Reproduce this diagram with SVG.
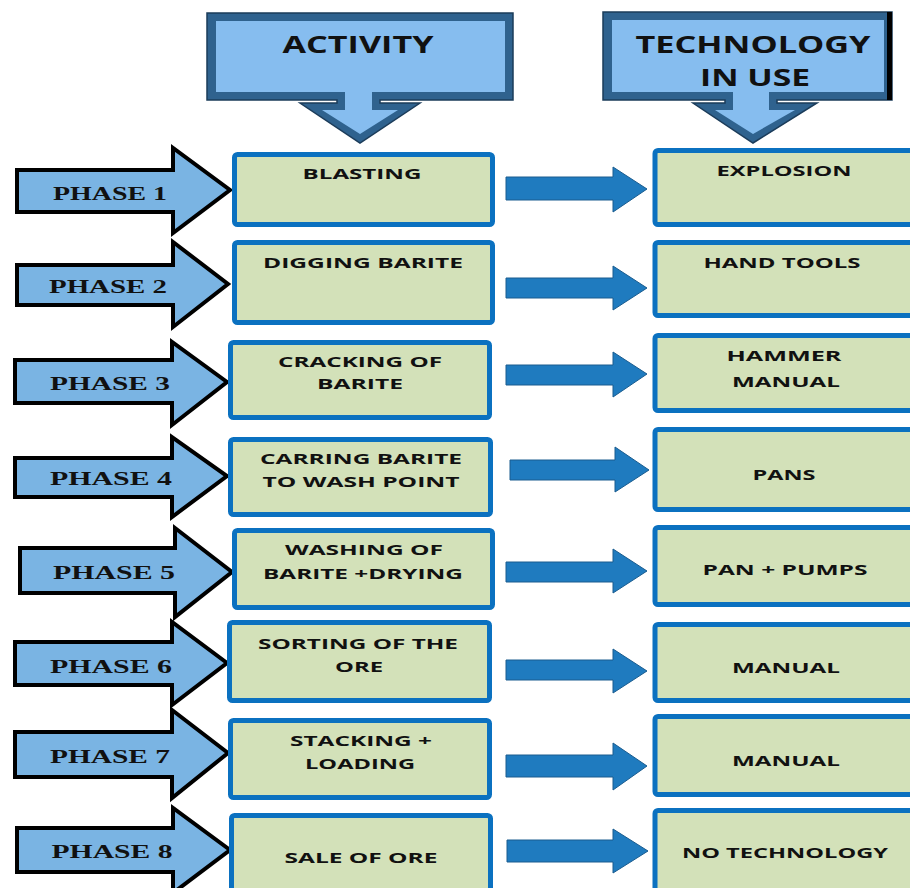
<svg xmlns="http://www.w3.org/2000/svg" width="910" height="888" viewBox="0 0 910 888">
<style>
.hdr-out{fill:#2f628e;stroke:#1b3c5a;stroke-width:1.5}
.hdr-in{fill:#86bdef}
.hdr-t{font-family:"Open Sans","DejaVu Sans",sans-serif;font-weight:700;font-size:23px;fill:#111;text-anchor:middle}
.ph{fill:#7ab4e3;stroke:#000;stroke-width:4;stroke-linejoin:miter}
.ph-t{font-family:"Liberation Serif","Times New Roman",serif;font-weight:700;font-size:19px;fill:#111;text-anchor:middle}
.box{fill:#d3e1b9;stroke:#0b71c0;stroke-width:5}
.bt{font-family:"Open Sans","DejaVu Sans",sans-serif;font-weight:700;font-size:15px;fill:#111;text-anchor:middle}
.conn{fill:#1f7bbf;stroke:#1a5c8f;stroke-width:1}
</style>
<rect width="910" height="888" fill="#fff"/>

<g id="hdr-activity">
<polygon class="hdr-out" points="207,13 513,13 513,100 380,100 380,103 420,103 360,143 300,103 337,103 337,100 207,100"/>
<polygon class="hdr-in" points="216,21 505,21 505,92 372,92 372,110 398,110 360,134 322,110 345,110 345,92 216,92"/>
<text class="hdr-t" x="358" y="53" textLength="151" lengthAdjust="spacingAndGlyphs">ACTIVITY</text>
</g>

<g id="hdr-technology">
<polygon class="hdr-out" points="603,12 892,12 892,100 777,100 777,103 817,103 753,143 693,103 725,103 725,100 603,100"/>
<polygon class="hdr-in" points="612,20 884,20 884,92 769,92 769,110 795,110 753,134 715,110 733,110 733,92 612,92"/>
<rect x="887" y="12" width="5" height="88" fill="#000"/>
<text class="hdr-t" x="753" y="53" textLength="235" lengthAdjust="spacingAndGlyphs">TECHNOLOGY</text>
<text class="hdr-t" x="755" y="86" textLength="110" lengthAdjust="spacingAndGlyphs">IN USE</text>
</g>

<g id="phase1"><polygon class="ph" points="17,170 173,170 173,148 230,190 173,233 173,212 17,212"/><text class="ph-t" x="110" y="200" textLength="114" lengthAdjust="spacingAndGlyphs">PHASE 1</text></g>
<g id="phase2"><polygon class="ph" points="17,265 173,265 173,242 228,284 173,327 173,305 17,305"/><text class="ph-t" x="108" y="293" textLength="118" lengthAdjust="spacingAndGlyphs">PHASE 2</text></g>
<g id="phase3"><polygon class="ph" points="15,360 172,360 172,342 227,382 172,425 172,403 15,403"/><text class="ph-t" x="110" y="390" textLength="120" lengthAdjust="spacingAndGlyphs">PHASE 3</text></g>
<g id="phase4"><polygon class="ph" points="15,458 172,458 172,437 227,476 172,517 172,497 15,497"/><text class="ph-t" x="111" y="485" textLength="122" lengthAdjust="spacingAndGlyphs">PHASE 4</text></g>
<g id="phase5"><polygon class="ph" points="20,548 175,548 175,528 232,572 175,617 175,593 20,593"/><text class="ph-t" x="114" y="579" textLength="122" lengthAdjust="spacingAndGlyphs">PHASE 5</text></g>
<g id="phase6"><polygon class="ph" points="15,642 172,642 172,622 227,663 172,705 172,685 15,685"/><text class="ph-t" x="111" y="673" textLength="122" lengthAdjust="spacingAndGlyphs">PHASE 6</text></g>
<g id="phase7"><polygon class="ph" points="15,732 172,732 172,710 228,753 172,798 172,777 15,777"/><text class="ph-t" x="110" y="763" textLength="120" lengthAdjust="spacingAndGlyphs">PHASE 7</text></g>
<g id="phase8"><polygon class="ph" points="17,828 173,828 173,808 230,850 173,893 173,872 17,872"/><text class="ph-t" x="112" y="858" textLength="121" lengthAdjust="spacingAndGlyphs">PHASE 8</text></g>

<g id="act1"><rect class="box" x="234.5" y="154.5" width="258" height="70" rx="3"/><text class="bt" x="362" y="179" textLength="119" lengthAdjust="spacingAndGlyphs">BLASTING</text></g>
<g id="act2"><rect class="box" x="234.5" y="242.5" width="258" height="80" rx="3"/><text class="bt" x="363" y="268" textLength="200" lengthAdjust="spacingAndGlyphs">DIGGING BARITE</text></g>
<g id="act3"><rect class="box" x="230.5" y="342.5" width="259" height="75" rx="3"/><text class="bt" x="360" y="367" textLength="164" lengthAdjust="spacingAndGlyphs">CRACKING OF</text><text class="bt" x="360" y="389" textLength="86" lengthAdjust="spacingAndGlyphs">BARITE</text></g>
<g id="act4"><rect class="box" x="230.5" y="439.5" width="260" height="75" rx="3"/><text class="bt" x="361" y="464" textLength="202" lengthAdjust="spacingAndGlyphs">CARRING BARITE</text><text class="bt" x="361" y="487" textLength="197" lengthAdjust="spacingAndGlyphs">TO WASH POINT</text></g>
<g id="act5"><rect class="box" x="234.5" y="530.5" width="258" height="77" rx="3"/><text class="bt" x="364" y="555" textLength="158" lengthAdjust="spacingAndGlyphs">WASHING OF</text><text class="bt" x="363" y="579" textLength="200" lengthAdjust="spacingAndGlyphs">BARITE +DRYING</text></g>
<g id="act6"><rect class="box" x="229.5" y="622.5" width="260" height="78" rx="3"/><text class="bt" x="358" y="649" textLength="200" lengthAdjust="spacingAndGlyphs">SORTING OF THE</text><text class="bt" x="359" y="672" textLength="48" lengthAdjust="spacingAndGlyphs">ORE</text></g>
<g id="act7"><rect class="box" x="230.5" y="720.5" width="259" height="77" rx="3"/><text class="bt" x="361" y="746" textLength="142" lengthAdjust="spacingAndGlyphs">STACKING +</text><text class="bt" x="360" y="769" textLength="110" lengthAdjust="spacingAndGlyphs">LOADING</text></g>
<g id="act8"><rect class="box" x="231.5" y="815.5" width="259" height="80" rx="3"/><text class="bt" x="361" y="863" textLength="153" lengthAdjust="spacingAndGlyphs">SALE OF ORE</text></g>

<g id="tech1"><rect class="box" x="655" y="150.5" width="262" height="74" rx="3"/><text class="bt" x="784" y="176" textLength="135" lengthAdjust="spacingAndGlyphs">EXPLOSION</text></g>
<g id="tech2"><rect class="box" x="655" y="242.5" width="262" height="73" rx="3"/><text class="bt" x="782" y="268" textLength="157" lengthAdjust="spacingAndGlyphs">HAND TOOLS</text></g>
<g id="tech3"><rect class="box" x="655" y="335.5" width="262" height="75" rx="3"/><text class="bt" x="784" y="361" textLength="115" lengthAdjust="spacingAndGlyphs">HAMMER</text><text class="bt" x="786" y="387" textLength="108" lengthAdjust="spacingAndGlyphs">MANUAL</text></g>
<g id="tech4"><rect class="box" x="655" y="429.5" width="262" height="80" rx="3"/><text class="bt" x="784" y="480" textLength="63" lengthAdjust="spacingAndGlyphs">PANS</text></g>
<g id="tech5"><rect class="box" x="655" y="527.5" width="262" height="77" rx="3"/><text class="bt" x="785" y="575" textLength="165" lengthAdjust="spacingAndGlyphs">PAN + PUMPS</text></g>
<g id="tech6"><rect class="box" x="655" y="624.5" width="262" height="76" rx="3"/><text class="bt" x="786" y="673" textLength="108" lengthAdjust="spacingAndGlyphs">MANUAL</text></g>
<g id="tech7"><rect class="box" x="655" y="716.5" width="262" height="78" rx="3"/><text class="bt" x="786" y="766" textLength="108" lengthAdjust="spacingAndGlyphs">MANUAL</text></g>
<g id="tech8"><rect class="box" x="655" y="810.5" width="262" height="82" rx="3"/><text class="bt" x="785" y="858" textLength="206" lengthAdjust="spacingAndGlyphs">NO TECHNOLOGY</text></g>

<g id="connectors">
<polygon class="conn" points="506,177 613,177 613,167 647,189 613,212 613,200 506,200"/>
<polygon class="conn" points="506,278 613,278 613,266 647,288 613,310 613,298 506,298"/>
<polygon class="conn" points="506,365 613,365 613,352 647,374 613,397 613,385 506,385"/>
<polygon class="conn" points="510,460 615,460 615,447 649,470 615,492 615,480 510,480"/>
<polygon class="conn" points="506,562 613,562 613,549 647,571 613,593 613,582 506,582"/>
<polygon class="conn" points="506,660 613,660 613,649 647,671 613,693 613,680 506,680"/>
<polygon class="conn" points="506,755 613,755 613,743 647,766 613,790 613,777 506,777"/>
<polygon class="conn" points="507,840 613,840 613,829 648,851 613,873 613,862 507,862"/>
</g>
</svg>
